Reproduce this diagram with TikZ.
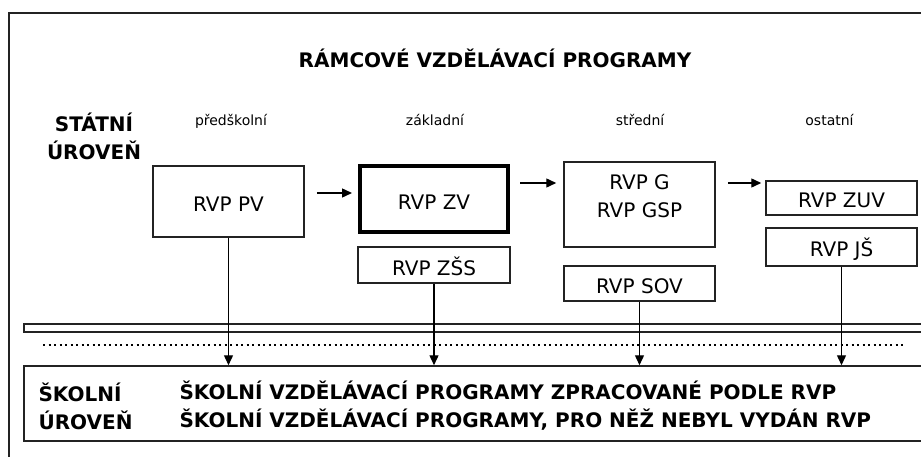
\documentclass[tikz,border=0pt]{standalone}
\usepackage{fontspec}
\setmainfont{DejaVu Sans}
\usepackage{tikz}
\usetikzlibrary{arrows.meta}
\definecolor{frameCol}{RGB}{35, 35, 35}
\tikzset{myFrameLine/.style={line width=1.5pt,color=frameCol}}
\tikzset{myBoxBase/.style={draw=frameCol, line width=1.5pt, minimum width=151pt, inner sep=0pt, align=center, font=\fontsize{20}{28}\selectfont}}
\tikzset{myBox/.style={myBoxBase, text height=20pt, text depth=0pt}}
\tikzset{myArrow/.style={line width=1.4pt,color=black,-{Triangle[length=10pt,width=9pt]}}}
\tikzset{myLabel/.style={anchor=base, font=\fontsize{14}{17}\selectfont}}
\tikzset{myBold/.style={font=\fontsize{20}{28}\selectfont\bfseries}}

\begin{document}
\begin{tikzpicture}[x=1pt,y=-1pt]
	\clip (0,0) rectangle (921,457);
	\fill[white] (0,0) rectangle (921,457);
	% outer frame, cut off at right and bottom
	\draw[myFrameLine] (9,470) -- (9,13) -- (935,13);
	\node[myBold, anchor=base] (title) at (495,68) {RÁMCOVÉ VZDĚLÁVACÍ PROGRAMY};
	\node[myBold, align=center] (statni) at (94,136) {STÁTNÍ\\ÚROVEŇ};

	\node[myLabel] (lpv) at (231,126) {předškolní};
	\node[myLabel] (lzv) at (435,126) {základní};
	\node[myLabel] (lss) at (640,126) {střední};
	\node[myLabel] (lost) at (829.5,126) {ostatní};

	\node[myBox, minimum height=71pt] (pv) at (228.5,201.5) {RVP PV};
	\node[myBox, draw=black, minimum height=66pt, minimum width=148pt, line width=4pt] (zv) at (434,199.5) {RVP ZV};
	\node[myBox, minimum height=36pt, minimum width=152pt] (zss) at (434,265) {RVP ZŠS};
	\node[myBoxBase, minimum height=85pt, text depth=16pt] (g) at (639.5,204.5) {RVP G\\RVP GSP};
	\node[myBox, minimum height=35pt] (sov) at (639.5,283.5) {RVP SOV};
	\node[myBox, minimum height=34pt] (zuv) at (841.5,198) {RVP ZUV};
	\node[myBox, minimum height=38pt] (js) at (841.5,247) {RVP JŠ};

	\draw[myArrow, shorten <=12pt, shorten >=6pt] (pv.east |- 0,193) -- (zv.west |- 0,193);
	\draw[myArrow, shorten <=10pt, shorten >=7pt] (zv.east |- 0,183) -- (g.west |- 0,183);
	\draw[myArrow, shorten <=12pt, shorten >=4pt] (g.east |- 0,183) -- (zuv.west |- 0,183);

	% double line and dotted line
	\draw[myFrameLine, line width=1.3pt] (935,324) -- (24,324) -- (24,332) -- (935,332);
	\draw[line width=2.2pt, dash pattern=on 2.2pt off 3.3pt] (43,345) -- (903,345);

	\node[draw=frameCol, line width=1.5pt, minimum width=911pt, minimum height=75pt, inner sep=0pt] (skol) at (479.5,403.5) {};
	\node[myBold, align=left, anchor=west] (skolUr) at (35,406) {ŠKOLNÍ\\ÚROVEŇ};
	\node[myBold, align=left, anchor=west] (skolTxt) at (176,406) {ŠKOLNÍ VZDĚLÁVACÍ PROGRAMY ZPRACOVANÉ PODLE RVP\\ŠKOLNÍ VZDĚLÁVACÍ PROGRAMY, PRO NĚŽ NEBYL VYDÁN RVP};

	\draw[myArrow] (pv.south) -- (pv.south |- skol.north);
	\draw[myArrow] (zss.south) -- (zss.south |- skol.north);
	\draw[myArrow] (sov.south) -- (sov.south |- skol.north);
	\draw[myArrow] (js.south) -- (js.south |- skol.north);
\end{tikzpicture}
\end{document}
